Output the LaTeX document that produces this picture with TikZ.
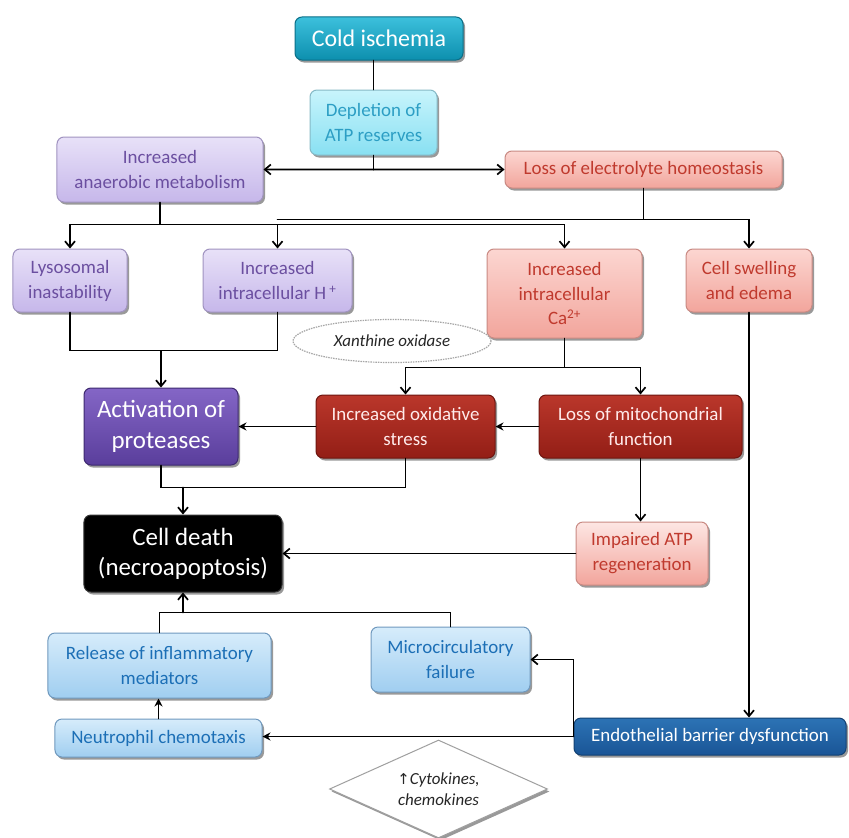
\documentclass[tikz,border=0pt]{standalone}
\usepackage{fontspec}
\setmainfont{Carlito}
\newfontfamily\djv{DejaVu Sans}
\usetikzlibrary{shapes.geometric,arrows.meta,shadows,calc}
\newcommand\fsz[2]{\fontsize{#1}{#2}\selectfont}
\definecolor{coldT}{HTML}{3CC0DC}\definecolor{coldB}{HTML}{0D8FAE}\definecolor{coldD}{HTML}{0B6F88}
\definecolor{deplT}{HTML}{C8F4FC}\definecolor{deplB}{HTML}{88E0F2}\definecolor{deplD}{HTML}{86B9C6}\definecolor{deplX}{HTML}{2C9EC4}
\definecolor{purT}{HTML}{E8E1F8}\definecolor{purB}{HTML}{C6B7EA}\definecolor{purD}{HTML}{A093C0}\definecolor{purX}{HTML}{6B4FA0}
\definecolor{pinkT}{HTML}{FCD6D1}\definecolor{pinkB}{HTML}{F2A59C}\definecolor{pinkD}{HTML}{C98A83}\definecolor{pinkX}{HTML}{C03A2E}
\definecolor{actT}{HTML}{8466C6}\definecolor{actB}{HTML}{5A3E9C}\definecolor{actD}{HTML}{3E2A70}
\definecolor{redT}{HTML}{BA372B}\definecolor{redB}{HTML}{931E16}\definecolor{redD}{HTML}{6E1610}
\definecolor{bluT}{HTML}{D6ECFB}\definecolor{bluB}{HTML}{A0CEF0}\definecolor{bluD}{HTML}{7099BE}\definecolor{bluX}{HTML}{1C6FB6}
\definecolor{endT}{HTML}{2C73B5}\definecolor{endB}{HTML}{1A5596}\definecolor{endD}{HTML}{134274}
\begin{document}
\begin{tikzpicture}[x=1bp,y=-1bp,
  shad/.style={drop shadow={shadow xshift=2bp,shadow yshift=-2.5bp,opacity=0.4,fill=black}},
  box/.style={rectangle,rounded corners=7bp,inner sep=0pt,align=center,line width=1bp,shad,font=\fsz{19}{25}},
  coldbox/.style={box,top color=coldT,bottom color=coldB,draw=coldD,text=white,font=\fsz{24}{28}},
  deplbox/.style={box,top color=deplT,bottom color=deplB,draw=deplD,text=deplX},
  purbox/.style={box,top color=purT,bottom color=purB,draw=purD,text=purX},
  pinkbox/.style={box,top color=pinkT,bottom color=pinkB,draw=pinkD,text=pinkX},
  actbox/.style={box,top color=actT,bottom color=actB,draw=actD,text=white,font=\fsz{25}{31}},
  redbox/.style={box,top color=redT,bottom color=redB,draw=redD,text=white!92!red},
  deathbox/.style={box,fill=black,draw=black!80,text=white,font=\fsz{25}{30}},
  blubox/.style={box,top color=bluT,bottom color=bluB,draw=bluD,text=bluX},
  endbox/.style={box,top color=endT,bottom color=endB,draw=endD,text=white},
  ln/.style={line width=1.9bp,line cap=round},
  arr/.style={ln,-{Straight Barb[length=6bp,width=10bp,line width=1.7bp]}},
  arrf/.style={ln,-{Stealth[length=8bp,width=8bp]}}
]
\fill[white] (0,0) rectangle (849,838);
\useasboundingbox (0,0) rectangle (849,838);

% nodes
\node[coldbox,minimum width=168bp,minimum height=43bp] (cold) at (379,38.5) {Cold ischemia};
\node[deplbox,minimum width=127bp,minimum height=65bp] (depl) at (373.5,122.5) {Depletion of\\ATP reserves};
\node[purbox,minimum width=206bp,minimum height=65bp] (anaer) at (160,169.5) {Increased\\anaerobic metabolism};
\node[pinkbox,minimum width=277bp,minimum height=37bp] (loss) at (643.5,169.5) {Loss of electrolyte homeostasis};
\node[purbox,minimum width=114bp,minimum height=63bp] (lyso) at (70,280.5) {Lysosomal\\inastability};
\node[purbox,minimum width=149bp,minimum height=63bp] (hplus) at (277.5,280.5) {Increased\\intracellular H\,\textsuperscript{+}};
\node[pinkbox,minimum width=155bp,minimum height=89bp] (ca) at (564.5,293.5) {Increased\\intracellular\\Ca\textsuperscript{2+}};
\node[pinkbox,minimum width=126bp,minimum height=63bp] (swell) at (749,280.5) {Cell swelling\\and edema};
\node[ellipse,draw=gray!70,line width=1.2bp,dash pattern=on 1.5bp off 1bp,minimum width=198bp,minimum height=43bp,inner sep=0pt,font=\fsz{17}{20}\itshape,text=black!85] (xan) at (392,341) {Xanthine oxidase};
\node[actbox,minimum width=154bp,minimum height=77bp] (act) at (161,426.5) {Activation of\\proteases};
\node[redbox,minimum width=179bp,minimum height=63bp] (ox) at (405.5,426.5) {Increased oxidative\\stress};
\node[redbox,minimum width=203bp,minimum height=63bp] (mito) at (640.5,426.5) {Loss of mitochondrial\\function};
\node[deathbox,minimum width=198bp,minimum height=77bp] (death) at (183,553.5) {Cell death\\(necroapoptosis)};
\node[pinkbox,top color=pinkT!60!white,minimum width=132bp,minimum height=63bp] (imp) at (642,553.5) {Impaired ATP\\regeneration};
\node[blubox,minimum width=223bp,minimum height=65bp] (rel) at (159.5,665.5) {Release of inflammatory\\mediators};
\node[blubox,minimum width=159bp,minimum height=65bp] (micro) at (450.5,659.5) {Microcirculatory\\failure};
\node[blubox,minimum width=207bp,minimum height=38bp] (neu) at (158.5,738) {Neutrophil chemotaxis};
\node[endbox,minimum width=272bp,minimum height=37bp] (endo) at (710,736.5) {Endothelial barrier dysfunction};
\node[diamond,draw=gray!75,line width=1bp,fill=white,shad,minimum width=218bp,minimum height=98bp,aspect=2.2,inner sep=0pt,align=center,font=\fsz{17}{21}\itshape,text=black!85] (cyto) at (438.5,789) {{\djv\upshape\fsz{15}{21}↑}Cytokines,\\chemokines};

% connectors
\draw[ln] (depl.north) -- (cold.south -| depl.north);
\coordinate (jd) at ($(depl.south)+(0,14)$);
\draw[ln] (depl.south) -- (jd);
\draw[arr] (jd) -- (anaer.east);
\draw[arr] (jd) -- (loss.west);

\coordinate (ja) at ($(anaer.south)+(0,22)$);
\draw[arr] (anaer.south) -- (ja) -| (lyso.north);
\draw[arr] (ja) -| (hplus.north);
\draw[arr] (ja) -| (ca.north);
\coordinate (jl) at ($(loss.south)+(0,31)$);
\draw[arr] (loss.south) -- (jl) -| (swell.north);
\draw[ln] (jl) -- (jl -| hplus.north);

\coordinate (jh) at ($(lyso.south)+(0,38)$);
\draw[arr] (lyso.south) -- (jh) -| (act.north);
\draw[ln] (hplus.south) |- (jh);

\coordinate (jc) at ($(ca.south)+(0,29)$);
\draw[arr] (ca.south) -- (jc) -| (ox.north);
\draw[arr] (jc) -| (mito.north);
\draw[arrf] (mito.west) -- (ox.east);
\draw[arrf] (ox.west) -- (act.east);

\coordinate (jad) at ($(act.south)+(0,22)$);
\draw[ln] (act.south) -- (jad) -| (ox.south);
\draw[arr] (jad -| death.north) -- (death.north);

\draw[arr] (mito.south) -- (mito.south |- imp.north);
\draw[arr] (imp.west) -- (imp.west -| death.east);

\draw[arr] (swell.south) -- (swell.south |- endo.north);
\draw[arrf] (endo.west) -- (endo.west -| neu.east);
\draw[arr] (endo.west) |- (micro.east);
\draw[arrf] (neu.north) -- (neu.north |- rel.south);

\coordinate (jr) at ($(rel.north)+(0,-20)$);
\draw[ln] (rel.north) -- (jr) -| (micro.north);
\draw[arr] (jr -| death.south) -- (death.south);
\end{tikzpicture}
\end{document}
